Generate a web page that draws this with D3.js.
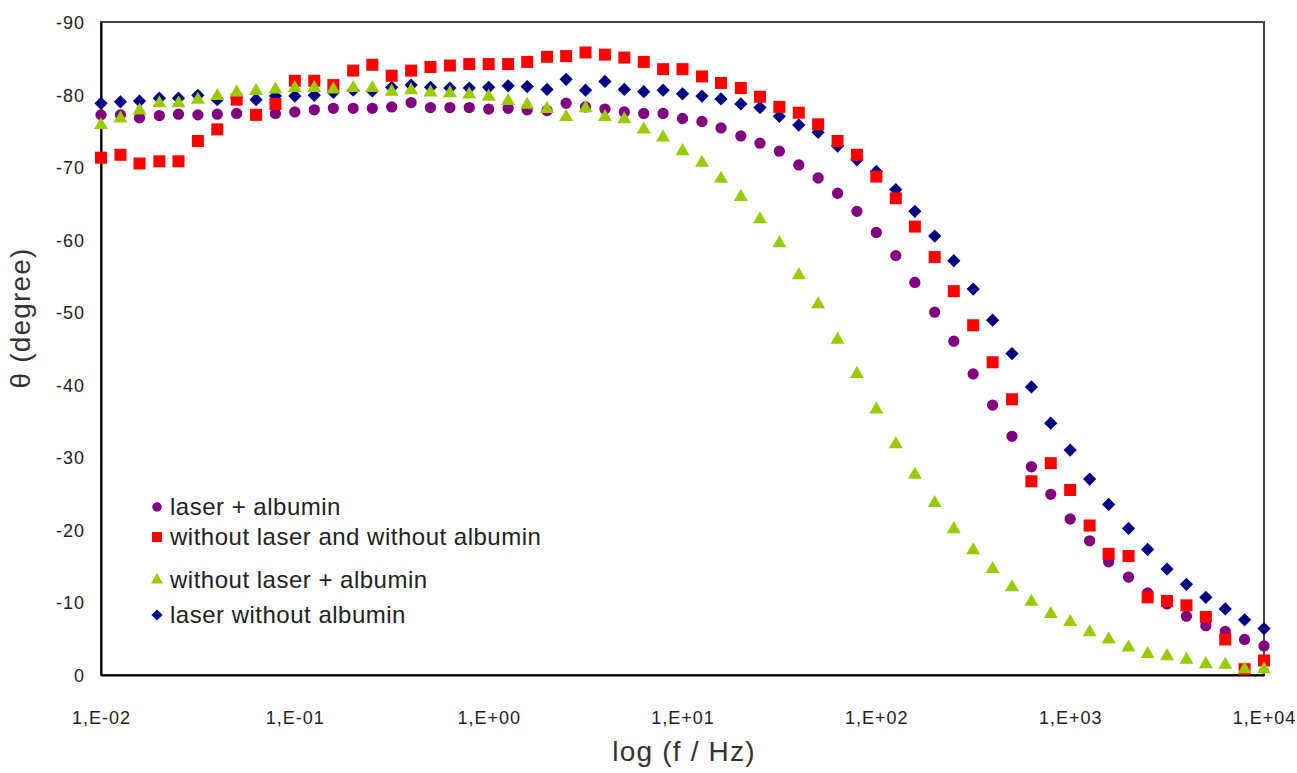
<!DOCTYPE html>
<html>
<head>
<meta charset="utf-8">
<script src="https://cdn.jsdelivr.net/npm/d3@7/dist/d3.min.js"></script>
<style>
  html, body { margin: 0; padding: 0; background: #fff; }
  svg { display: block; font-family: "Liberation Sans", Arial, sans-serif; }
</style>
</head>
<body>
<svg id="chart" width="1297" height="773"></svg>
<script>
// frequencies (Hz), 10 points per decade
const freq = [0.01,0.0126,0.0158,0.02,0.0251,0.0316,0.0398,0.0501,0.0631,0.0794,
  0.1,0.126,0.158,0.2,0.251,0.316,0.398,0.501,0.631,0.794,
  1,1.26,1.58,2,2.51,3.16,3.98,5.01,6.31,7.94,
  10,12.6,15.8,20,25.1,31.6,39.8,50.1,63.1,79.4,
  100,126,158,200,251,316,398,501,631,794,
  1000,1260,1580,2000,2510,3160,3980,5010,6310,7940,
  10000];

const laserAlbumin = [-77.2,-77.2,-76.8,-77.1,-77.3,-77.2,-77.3,-77.4,-77.3,-77.4,
  -77.6,-77.9,-78.1,-78.1,-78.1,-78.3,-78.9,-78.2,-78.2,-78.2,
  -78.0,-78.1,-77.9,-77.8,-78.8,-78.3,-78.0,-77.6,-77.4,-77.4,
  -76.7,-76.3,-75.4,-74.3,-73.3,-72.2,-70.3,-68.5,-66.4,-63.9,
  -61.0,-57.8,-54.1,-50.0,-46.0,-41.5,-37.2,-32.9,-28.7,-24.9,
  -21.5,-18.5,-15.6,-13.5,-11.3,-9.8,-8.1,-6.8,-6.0,-4.9,
  -4.0];

const noLaserNoAlbumin = [-71.3,-71.7,-70.5,-70.8,-70.8,-73.6,-75.2,-79.3,-77.2,-78.7,
  -81.9,-81.9,-81.3,-83.3,-84.1,-82.6,-83.3,-83.8,-84.0,-84.2,
  -84.2,-84.2,-84.5,-85.2,-85.3,-85.8,-85.5,-85.1,-84.5,-83.5,
  -83.5,-82.5,-81.6,-80.9,-79.7,-78.3,-77.5,-75.9,-73.6,-71.7,
  -68.7,-65.7,-61.8,-57.6,-52.9,-48.2,-43.1,-38.0,-26.7,-29.2,
  -25.5,-20.6,-16.7,-16.4,-10.7,-10.2,-9.6,-8.0,-4.9,-0.8,
  -2.0];

const noLaserAlbumin = [-75.8,-76.7,-77.8,-78.8,-78.8,-79.3,-79.8,-80.3,-80.5,-80.7,
  -80.9,-80.9,-80.7,-80.9,-80.9,-80.4,-80.6,-80.3,-80.2,-80.0,
  -79.7,-79.1,-78.6,-78.0,-76.9,-78.1,-76.9,-76.6,-75.2,-74.1,
  -72.2,-70.6,-68.4,-65.9,-62.8,-59.5,-55.1,-51.1,-46.2,-41.5,
  -36.6,-31.8,-27.6,-23.7,-20.1,-17.2,-14.6,-12.1,-10.1,-8.4,
  -7.3,-5.9,-4.9,-3.8,-2.9,-2.6,-2.1,-1.5,-1.4,-0.8,
  -0.8];

const laserNoAlbumin = [-78.8,-79.0,-79.1,-79.5,-79.5,-79.9,-79.3,-79.6,-79.3,-79.8,
  -79.8,-79.9,-80.3,-80.6,-80.5,-81.0,-81.3,-81.0,-80.9,-80.9,
  -81.0,-81.2,-81.1,-80.7,-82.1,-80.6,-81.8,-80.7,-80.4,-80.6,
  -80.1,-79.8,-79.4,-78.7,-78.2,-77.0,-75.8,-74.8,-72.9,-71.0,
  -69.4,-66.9,-63.9,-60.5,-57.1,-53.2,-48.9,-44.3,-39.7,-34.7,
  -31.0,-27.0,-23.5,-20.2,-17.3,-14.6,-12.5,-10.7,-9.1,-7.6,
  -6.4];

const xTicks = [0.01, 0.1, 1, 10, 100, 1000, 10000];
const xTickLabels = ["1,E-02","1,E-01","1,E+00","1,E+01","1,E+02","1,E+03","1,E+04"];
const yTicks = [0, -10, -20, -30, -40, -50, -60, -70, -80, -90];

const series = [
  { label: "laser + albumin", values: laserAlbumin, color: "#800080", shape: "circle" },
  { label: "without laser and without albumin", values: noLaserNoAlbumin, color: "#ff0000", shape: "square" },
  { label: "without laser + albumin", values: noLaserAlbumin, color: "#99cc00", shape: "triangle" },
  { label: "laser without albumin", values: laserNoAlbumin, color: "#000080", shape: "diamond" }
];
// stacking seen in the picture: blue at the bottom, green on top
const drawOrder = [3, 0, 1, 2];

const svg = d3.select("#chart");
const margin = { top: 22, right: 33, bottom: 98, left: 101 };
const width = 1297, height = 773;

const x = d3.scaleLog()
  .domain([0.01, 10000])
  .range([margin.left, width - margin.right]);

const y = d3.scaleLinear()
  .domain([0, -90])
  .range([height - margin.bottom, margin.top]);

const symbols = {
  circle: d3.symbol().type(d3.symbolCircle).size(100),
  square: d3.symbol().type(d3.symbolSquare).size(144),
  triangle: d3.symbol().type(d3.symbolTriangle).size(84),
  diamond: d3.symbol().type(d3.symbolDiamond2).size(112)
};
const legendSymbols = {
  circle: d3.symbol().type(d3.symbolCircle).size(70),
  square: d3.symbol().type(d3.symbolSquare).size(100),
  triangle: d3.symbol().type(d3.symbolTriangle).size(62),
  diamond: d3.symbol().type(d3.symbolDiamond2).size(80)
};

// plot frame
svg.append("rect")
  .attr("x", margin.left)
  .attr("y", margin.top)
  .attr("width", width - margin.left - margin.right)
  .attr("height", height - margin.top - margin.bottom)
  .attr("fill", "none")
  .attr("stroke", "#444")
  .attr("stroke-width", 2);

// axes
const xAxis = g => g
  .attr("transform", `translate(0, ${height - margin.bottom})`)
  .call(d3.axisBottom(x).tickValues(xTicks).tickSize(0).tickPadding(0)
    .tickFormat((d, i) => xTickLabels[i]));

const yAxis = g => g
  .attr("transform", `translate(${margin.left}, 0)`)
  .call(d3.axisLeft(y).tickValues(yTicks).tickSize(0).tickPadding(0)
    .tickFormat(d => String(d)));

svg.append("g").call(xAxis)
  .call(g => g.select(".domain").attr("stroke", "#000").attr("stroke-width", 2))
  .call(g => g.selectAll("text")
    .attr("y", 49)
    .attr("dy", null)
    .attr("fill", "#222")
    .style("font-size", "18px")
    .style("letter-spacing", "1px")
    .style("font-family", "'Liberation Sans', Arial, sans-serif"));

svg.append("g").call(yAxis)
  .call(g => g.select(".domain").attr("stroke", "#000").attr("stroke-width", 2))
  .call(g => g.selectAll("text")
    .attr("x", -16)
    .attr("dy", "0.36em")
    .attr("fill", "#222")
    .style("font-size", "18px")
    .style("letter-spacing", "1px")
    .style("font-family", "'Liberation Sans', Arial, sans-serif"));

// axis titles
svg.append("text")
  .attr("text-anchor", "middle")
  .attr("x", 684)
  .attr("y", 761)
  .attr("fill", "#333")
  .style("font-size", "28px")
  .style("letter-spacing", "1.2px")
  .text("log (f / Hz)");

svg.append("text")
  .attr("text-anchor", "middle")
  .attr("transform", "translate(30, 318) rotate(-90)")
  .attr("fill", "#333")
  .style("font-size", "28px")
  .style("letter-spacing", "1.2px")
  .text("θ (degree)");

// points
drawOrder.forEach(k => {
  const s = series[k];
  svg.append("g")
    .selectAll("path")
    .data(s.values)
    .enter()
    .append("path")
    .attr("transform", (d, i) => `translate(${x(freq[i])}, ${y(d)})`)
    .attr("d", symbols[s.shape]())
    .attr("fill", s.color);
});

// legend
const legendRows = [507, 537, 580, 615];
const legend = svg.append("g").attr("class", "legend");

legend.selectAll("path")
  .data(series)
  .enter()
  .append("path")
  .attr("transform", (d, i) => `translate(157, ${legendRows[i]})`)
  .attr("d", d => legendSymbols[d.shape]())
  .attr("fill", d => d.color);

legend.selectAll("text")
  .data(series)
  .enter()
  .append("text")
  .attr("x", 170)
  .attr("y", (d, i) => legendRows[i])
  .attr("dy", "0.35em")
  .attr("fill", "#222")
  .style("font-size", "24px")
  .style("letter-spacing", "0.5px")
  .text(d => d.label);
</script>
</body>
</html>
